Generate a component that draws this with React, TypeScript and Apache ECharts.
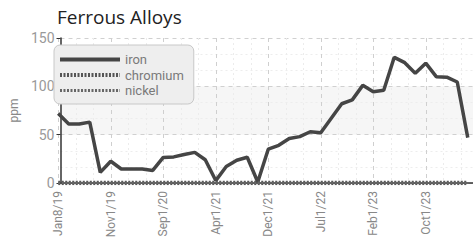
import React, { useEffect, useRef } from "react";
import * as echarts from "echarts";

const categories = [
  "Jan8/19", "Mar1/19", "May1/19", "Jul1/19", "Sep1/19",
  "Nov1/19", "Jan1/20", "Mar1/20", "May1/20", "Jul1/20",
  "Sep1/20", "Oct1/20", "Dec1/20", "Jan1/21", "Feb1/21",
  "Apr1/21", "May1/21", "Jul1/21", "Aug1/21", "Oct1/21",
  "Dec1/21", "Jan1/22", "Mar1/22", "Apr1/22", "May1/22",
  "Jul1/22", "Aug1/22", "Sep1/22", "Nov1/22", "Dec1/22",
  "Feb1/23", "Apr1/23", "May1/23", "Jun1/23", "Aug1/23",
  "Oct1/23", "Nov1/23", "Dec1/23", "Jan1/24", "Feb1/24",
];

const iron = [
  72, 61, 61, 63, 11, 22.5, 14.5, 14.5, 14.5, 13,
  26.5, 27, 29.5, 31.7, 24, 2.5, 17, 23.5, 26.6, 1,
  35, 39, 46, 48, 53, 52, 67, 82, 86, 101,
  94.5, 96, 130, 124.5, 113.5, 124, 110, 109.5, 104.5, 47,
];
const chromium = categories.map(() => 0);
const nickel = categories.map(() => 0);

const yTicks = { min: 0, max: 150, interval: 50 };

const narrow = "Roboto, sans-serif";

export default function App() {
  const ref = useRef<HTMLDivElement>(null);
  useEffect(() => {
    if (!ref.current) return;
    const chart = echarts.init(ref.current, null, { renderer: "svg" });
    chart.setOption({
      animation: false,
      backgroundColor: "#fff",
      title: {
        text: "Ferrous Alloys",
        left: 52,
        top: 2,
        textStyle: { fontFamily: "'Open Sans', sans-serif", fontSize: 19, fontWeight: "normal", color: "#222" },
      },
      legend: {
        orient: "vertical",
        left: 54,
        top: 45,
        padding: [8, 10, 7, 4],
        itemGap: 2.5,
        itemWidth: 60,
        itemHeight: 14,
        backgroundColor: "#eeeeee",
        borderColor: "#c8c8c8",
        borderWidth: 1,
        borderRadius: 6,
        itemStyle: { opacity: 0 },
        textStyle: { fontFamily: narrow, fontSize: 13, color: "#7a7a7a" },
        data: [
          { name: "iron", lineStyle: { width: 4, color: "#454545" } },
          { name: "chromium", lineStyle: { width: 4, color: "#555", type: [2, 1.5] } },
          { name: "nickel", lineStyle: { width: 3, color: "#666", type: [2, 1.5] } },
        ],
      },
      grid: [
        { left: 46, right: 0, top: 38, height: 145 },
        { left: 58.25, right: 5.25, top: 38, height: 145 },
      ],
      xAxis: [
        {
          type: "value",
          gridIndex: 0,
          min: 0,
          max: 1,
          axisLine: { show: true, lineStyle: { color: "#333", width: 1.5 } },
          axisTick: { show: false },
          axisLabel: { show: false },
          splitLine: { show: false },
        },
        {
          type: "category",
          gridIndex: 1,
          data: categories,
          boundaryGap: false,
          axisLine: { show: false },
          axisTick: { show: false },
          axisLabel: {
            interval: 4,
            rotate: 90,
            margin: 8,
            fontFamily: narrow,
            fontSize: 12,
            color: "#888",
          },
          splitLine: { show: true, interval: 4, lineStyle: { color: "#cfcfcf", type: [4, 4], width: 1 } },
        },
        {
          type: "value",
          gridIndex: 1,
          min: 0,
          max: categories.length - 1,
          interval: 5,
          axisLine: { show: false },
          axisTick: { show: false },
          axisLabel: { show: false },
          splitLine: { show: false },
          minorTick: { show: false, splitNumber: 3 },
          minorSplitLine: { show: true, lineStyle: { color: "#ececec", type: [2, 3], width: 1 } },
        },
      ],
      yAxis: [
        {
          type: "value",
          gridIndex: 0,
          ...yTicks,
          name: "ppm",
          nameLocation: "middle",
          nameGap: 27,
          nameTextStyle: { fontFamily: narrow, fontSize: 12, color: "#888" },
          axisLine: { show: true, lineStyle: { color: "#333", width: 1.5 } },
          axisTick: { show: true, length: 4, lineStyle: { color: "#333" } },
          axisLabel: { fontFamily: narrow, fontSize: 14, color: "#999", margin: 6 },
          splitLine: { show: true, lineStyle: { color: "#d0d0d0", type: [4, 4] } },
          minorTick: { show: false, splitNumber: 3 },
          minorSplitLine: { show: true, lineStyle: { color: "#ededed", type: [2, 3] } },
          splitArea: { show: true, areaStyle: { color: ["rgba(255,255,255,0)", "#f6f6f6"] } },
        },
        {
          type: "value",
          gridIndex: 1,
          ...yTicks,
          show: false,
          splitLine: { show: false },
        },
      ],
      series: [
        {
          name: "iron",
          type: "line",
          xAxisIndex: 1,
          yAxisIndex: 1,
          data: iron,
          symbol: "none",
          color: "#454545",
          lineStyle: { width: 3.5, color: "#454545" },
        },
        {
          name: "chromium",
          type: "line",
          xAxisIndex: 1,
          yAxisIndex: 1,
          data: chromium,
          symbol: "none",
          color: "#555",
          lineStyle: { width: 4.5, type: [2, 1.5], color: "#555" },
        },
        {
          name: "nickel",
          type: "line",
          xAxisIndex: 1,
          yAxisIndex: 1,
          data: nickel,
          symbol: "none",
          color: "#666",
          lineStyle: { width: 2.5, type: [2, 1.5], color: "#666" },
        },
      ],
    });
    return () => chart.dispose();
  }, []);
  return <div ref={ref} style={{ width: 473, height: 242, position: "absolute", left: 0, top: 0 }} />;
}
